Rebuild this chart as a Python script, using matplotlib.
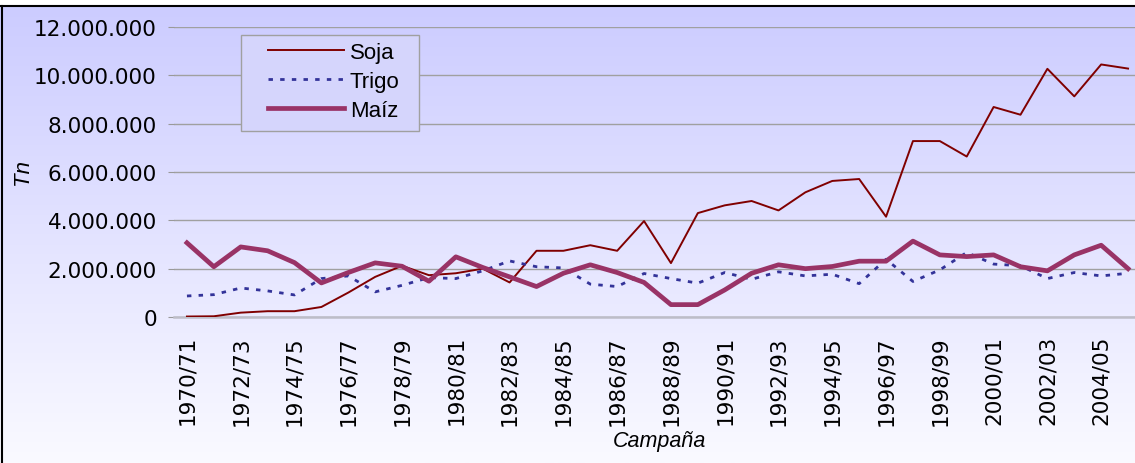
import numpy as np
import matplotlib
matplotlib.use("Agg")
import matplotlib.pyplot as plt
from matplotlib.patches import Rectangle
from matplotlib.ticker import FuncFormatter

# campañas 1970/71 .. 2005/06
campanas = ["%d/%02d" % (y, (y + 1) % 100) for y in range(1970, 2006)]

soja = [20000, 30000, 180000, 240000, 240000, 415000, 1010000, 1660000, 2120000, 1730000,
        1810000, 2000000, 1430000, 2740000, 2740000, 2970000, 2740000, 3970000, 2230000, 4300000,
        4620000, 4800000, 4410000, 5160000, 5630000, 5710000, 4150000, 7280000, 7280000, 6640000,
        8690000, 8370000, 10270000, 9130000, 10450000, 10280000]
trigo = [870000, 925000, 1200000, 1080000, 913000, 1590000, 1700000, 1040000, 1310000, 1630000,
         1590000, 1910000, 2320000, 2080000, 2030000, 1360000, 1260000, 1800000, 1590000, 1400000,
         1840000, 1560000, 1870000, 1700000, 1770000, 1380000, 2390000, 1470000, 1950000, 2670000,
         2190000, 2120000, 1590000, 1840000, 1700000, 1810000]
maiz = [3070000, 2080000, 2900000, 2740000, 2250000, 1410000, 1840000, 2240000, 2100000, 1480000,
        2490000, 2050000, 1660000, 1260000, 1810000, 2160000, 1840000, 1430000, 512000, 512000,
        1120000, 1810000, 2160000, 2000000, 2090000, 2310000, 2310000, 3140000, 2570000, 2500000,
        2570000, 2080000, 1910000, 2570000, 2970000, 2000000]

W, H = 1135, 464
fig = plt.figure(figsize=(W / 100, H / 100), dpi=100)

# fondo degradado
bg = fig.add_axes([0, 0, 1, 1], zorder=-1)
top_c = np.array([204, 204, 255]) / 255.0
bot_c = np.array([250, 250, 255]) / 255.0
t = np.linspace(0, 1, 256)[:, None]
grad = (top_c[None, :] * (1 - t) + bot_c[None, :] * t)[:, None, :]
bg.imshow(grad, aspect="auto", extent=[0, W, H, 7])
bg.add_patch(Rectangle((0, 0), W, 7, facecolor="white", edgecolor="none"))
bg.plot([0, W], [7, 7], color="black", lw=1.5)
bg.plot([1.5, 1.5], [7, H], color="black", lw=1.5)
bg.set_xlim(0, W)
bg.set_ylim(H, 0)
bg.axis("off")

ax = fig.add_axes([173.5 / W, (H - 318) / H, 968 / W, 290 / H])
ax.set_facecolor("none")
x = np.arange(len(campanas))

ax.plot(x, soja, color="#800000", lw=1.4, label="Soja", zorder=3)
ax.plot(x, trigo, color="#333399", lw=2.0, dashes=(1.6, 2.6), label="Trigo", zorder=3)
ax.plot(x, maiz, color="#993366", lw=3.4, label="Maíz", zorder=3)

ax.set_xlim(-0.5, len(campanas) - 0.5)
ax.set_ylim(0, 12000000)
ax.set_yticks(np.arange(0, 12000001, 2000000))
ax.yaxis.set_major_formatter(FuncFormatter(lambda v, p: "{:,}".format(int(v)).replace(",", ".")))
ax.set_xticks(x[::2])
ax.set_xticklabels(campanas[::2], rotation=90, va="top", ha="center")
ax.tick_params(axis="x", length=0, pad=13, labelsize=15.5)
ax.tick_params(axis="y", length=4, color="#999999", pad=8, labelsize=15.5)
ax.grid(axis="y", color="#a0a0a0", lw=1.0, zorder=0)
ax.set_axisbelow(True)
for s in ["top", "right", "left"]:
    ax.spines[s].set_visible(False)
ax.spines["bottom"].set_color("#bdbdc8")
ax.spines["bottom"].set_linewidth(1.8)

# caja de leyenda
ax.add_patch(Rectangle((241 / W, 1 - 132 / H), 178 / W, 96 / H, transform=fig.transFigure,
                       facecolor="#d5d5fc", edgecolor="#a0a0a0", lw=1.0, zorder=2, clip_on=False))
leg = ax.legend(loc="upper left", bbox_to_anchor=(268 / W, 1 - 43 / H), bbox_transform=fig.transFigure,
                frameon=False, borderpad=0, borderaxespad=0, handlelength=3.42, handletextpad=0.27,
                labelspacing=0.36, prop={"family": "Liberation Sans", "size": 16})
leg.set_zorder(5)

fig.text(22 / W, 1 - 172 / H, "Tn", rotation=90, ha="center", va="center",
         family="Liberation Sans", style="italic", fontsize=16)
fig.text(660 / W, 1 - 441 / H, "Campaña", ha="center", va="center",
         family="Liberation Sans", style="italic", fontsize=15.5)

fig.savefig("out.png", dpi=100)
